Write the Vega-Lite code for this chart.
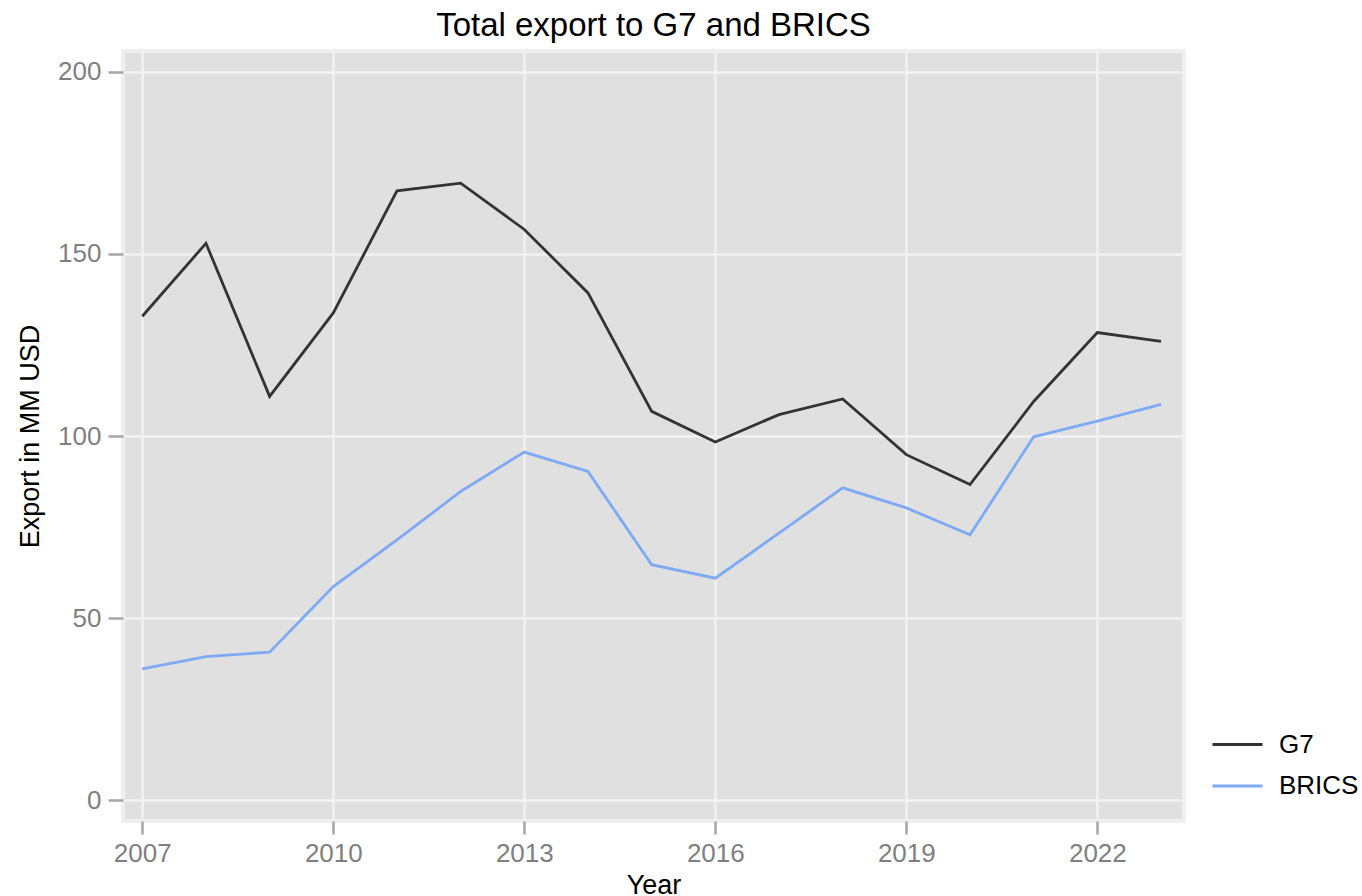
{
  "$schema": "https://vega.github.io/schema/vega-lite/v6.json",
  "autosize": "none",
  "width": 1061,
  "height": 770,
  "padding": {"left": 123, "top": 51, "right": 178, "bottom": 75},
  "background": "white",
  "title": {
    "text": "Total export to G7 and BRICS",
    "font": "Liberation Sans",
    "fontSize": 33,
    "fontWeight": "normal",
    "color": "#000000",
    "anchor": "middle",
    "frame": "group",
    "baseline": "alphabetic",
    "offset": -18
  },
  "config": {
    "font": "Liberation Sans",
    "view": {"fill": "#e0e0e0", "stroke": "#efefef", "strokeWidth": 4},
    "axis": {
      "labelFont": "Liberation Sans",
      "labelFontSize": 26,
      "labelColor": "#7f7f7f",
      "tickColor": "#a6a6a6",
      "tickWidth": 2.5,
      "domain": false,
      "grid": true,
      "gridColor": "#f2f2f2",
      "gridWidth": 2.5,
      "titleFont": "Liberation Sans",
      "titleFontSize": 27,
      "titleFontWeight": "normal",
      "titleColor": "#000000"
    },
    "legend": {
      "labelFont": "Liberation Sans",
      "labelFontSize": 26,
      "labelColor": "#000000"
    }
  },
  "data": {
    "values": [
      {"year": 2007, "group": "G7", "value": 132.9},
      {"year": 2008, "group": "G7", "value": 152.9},
      {"year": 2009, "group": "G7", "value": 110.9},
      {"year": 2010, "group": "G7", "value": 133.8},
      {"year": 2011, "group": "G7", "value": 167.3},
      {"year": 2012, "group": "G7", "value": 169.4},
      {"year": 2013, "group": "G7", "value": 156.7},
      {"year": 2014, "group": "G7", "value": 139.3},
      {"year": 2015, "group": "G7", "value": 106.8},
      {"year": 2016, "group": "G7", "value": 98.4},
      {"year": 2017, "group": "G7", "value": 105.9},
      {"year": 2018, "group": "G7", "value": 110.2},
      {"year": 2019, "group": "G7", "value": 94.9},
      {"year": 2020, "group": "G7", "value": 86.7},
      {"year": 2021, "group": "G7", "value": 109.5},
      {"year": 2022, "group": "G7", "value": 128.4},
      {"year": 2023, "group": "G7", "value": 126.0},
      {"year": 2007, "group": "BRICS", "value": 36.1},
      {"year": 2008, "group": "BRICS", "value": 39.5},
      {"year": 2009, "group": "BRICS", "value": 40.7},
      {"year": 2010, "group": "BRICS", "value": 58.7},
      {"year": 2011, "group": "BRICS", "value": 71.5},
      {"year": 2012, "group": "BRICS", "value": 84.8},
      {"year": 2013, "group": "BRICS", "value": 95.6},
      {"year": 2014, "group": "BRICS", "value": 90.3},
      {"year": 2015, "group": "BRICS", "value": 64.7},
      {"year": 2016, "group": "BRICS", "value": 61.0},
      {"year": 2017, "group": "BRICS", "value": 73.4},
      {"year": 2018, "group": "BRICS", "value": 85.8},
      {"year": 2019, "group": "BRICS", "value": 80.3},
      {"year": 2020, "group": "BRICS", "value": 72.9},
      {"year": 2021, "group": "BRICS", "value": 99.8},
      {"year": 2022, "group": "BRICS", "value": 104.1},
      {"year": 2023, "group": "BRICS", "value": 108.7}
    ]
  },
  "mark": {"type": "line", "strokeWidth": 2.8},
  "encoding": {
    "x": {
      "field": "year",
      "type": "quantitative",
      "scale": {"domain": [2006.697, 2023.361], "nice": false, "zero": false},
      "axis": {
        "values": [2007, 2010, 2013, 2016, 2019, 2022],
        "format": "d",
        "tickSize": 13,
        "labelPadding": 6,
        "title": "Year",
        "titlePadding": 6,
        "labelFlush": false
      }
    },
    "y": {
      "field": "value",
      "type": "quantitative",
      "scale": {"domain": [-5.63, 205.68], "nice": false, "zero": false},
      "axis": {
        "values": [0, 50, 100, 150, 200],
        "tickSize": 15,
        "labelPadding": 7,
        "title": "Export in MM USD",
        "titlePadding": 13
      }
    },
    "color": {
      "field": "group",
      "type": "nominal",
      "scale": {"domain": ["G7", "BRICS"], "range": ["#333333", "#7eaaf5"]},
      "legend": {
        "title": null,
        "orient": "none",
        "legendX": 1088,
        "legendY": 667,
        "symbolType": "stroke",
        "symbolSize": 2500,
        "symbolStrokeWidth": 2.8,
        "labelOffset": 15,
        "rowPadding": 1.5
      }
    }
  }
}
